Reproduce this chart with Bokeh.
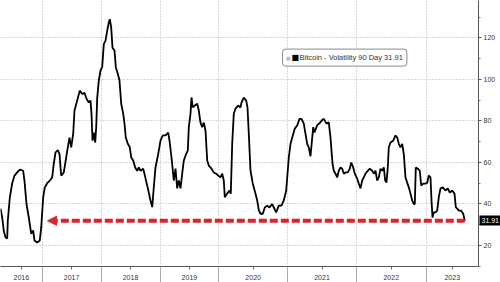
from bokeh.plotting import figure
from bokeh.models import Range1d, FixedTicker, Label, Arrow, NormalHead, LinearAxis
from bokeh.embed import file_html
from bokeh.resources import INLINE

# observation number (Bloomberg plots by observation) and 90-day volatility
obs = [0.0, 1.7, 3.3, 5.0, 6.7, 7.3, 9.3, 11.7, 14.0, 16.7, 19.3, 22.7, 24.0, 26.0, 28.3, 30.7,
       32.7, 34.0, 36.7, 39.3, 40.7, 42.7, 44.3, 46.7, 49.3, 51.7, 53.3, 55.0, 57.3, 59.0, 60.7,
       63.3, 65.7, 67.3, 69.0, 70.7, 72.7, 74.0, 76.7, 79.3, 81.7, 84.0, 86.0, 88.3, 90.0, 91.0,
       92.0, 93.3, 94.7, 95.7, 96.7, 98.3, 100.0, 101.7, 103.3, 105.0, 106.7, 108.3, 109.3, 110.7,
       112.0, 114.0, 115.3, 117.3, 119.0, 120.7, 122.7, 124.0, 125.3, 127.3, 129.3, 130.7, 132.7,
       134.7, 136.7, 138.3, 140.0, 142.7, 144.0, 146.0, 148.3, 150.0, 151.7, 153.3, 155.0, 157.7,
       160.0, 162.3, 165.0, 167.7, 169.0, 171.0, 173.3, 175.0, 176.7, 178.3, 180.0, 181.7, 183.3,
       185.7, 187.3, 188.3, 190.0, 191.0, 192.3, 194.3, 196.7, 198.3, 200.0, 201.7, 203.3, 205.0,
       206.7, 208.3, 211.0, 213.3, 215.7, 217.7, 220.0, 221.7, 223.3, 224.3, 226.7, 229.0, 230.3,
       231.7, 233.3, 235.0, 237.7, 240.0, 241.0, 243.3, 245.7, 247.0, 248.3, 250.0, 252.3, 255.0,
       256.7, 258.3, 260.0, 262.3, 264.3, 266.7, 269.0, 271.7, 273.3, 275.7, 278.3, 281.0, 283.3,
       285.7, 288.3, 290.0, 292.3, 294.3, 296.7, 299.0, 301.0, 303.3, 305.0, 306.7, 308.3, 310.0,
       312.7, 314.0, 316.7, 319.3, 321.7, 323.3, 326.0, 328.3, 330.0, 331.0, 332.0, 333.3, 335.0,
       336.7, 338.3, 340.0, 341.7, 343.3, 345.0, 347.3, 349.3, 350.7, 352.7, 354.3, 356.7, 358.3,
       360.0, 361.7, 363.3, 365.0, 367.3, 369.3, 371.7, 373.3, 375.0, 376.7, 378.3, 380.0, 381.7,
       383.3, 384.7, 386.0, 387.3, 388.3, 390.0, 392.7, 395.0, 396.7, 398.3, 400.0, 401.7, 403.3,
       405.0, 406.7, 408.3, 410.0, 411.7, 413.3, 414.3, 415.3, 417.3, 419.3, 420.7, 422.7, 425.0,
       426.7, 428.3, 430.0, 431.0, 432.0, 433.3, 435.0, 436.7, 438.3, 440.0, 442.3, 445.0, 447.3,
       449.3, 451.7, 454.0, 455.3, 456.7, 458.3, 460.7, 462.7, 464.3]
vol = [37.8, 33.5, 27.0, 24.0, 23.4, 32.0, 43.0, 50.0, 53.7, 55.2, 56.6, 56.0, 51.0, 40.0, 33.5, 25.7,
       27.2, 22.4, 21.5, 22.4, 28.7, 43.3, 48.0, 50.0, 51.3, 52.8, 59.5, 64.8, 66.0, 64.0, 53.6,
       55.2, 62.4, 67.3, 72.0, 67.3, 73.9, 85.0, 89.8, 94.6, 93.0, 93.6, 90.7, 88.9, 89.8, 83.5,
       70.5, 74.4, 69.6, 76.9, 91.0, 99.5, 104.3, 105.9, 117.0, 118.7, 123.5, 127.4, 129.0, 125.0,
       115.3, 113.9, 105.9, 102.7, 99.5, 88.3, 83.5, 78.7, 72.0, 69.0, 67.3, 62.4, 61.0,
       57.6, 56.0, 57.6, 56.0, 57.0, 54.5, 50.3, 45.5, 41.7, 38.5, 48.0, 57.6, 64.0,
       70.5, 73.0, 73.0, 74.4, 70.5, 62.4, 51.3, 57.0, 47.5, 51.3, 47.5, 54.6, 60.9,
       64.2, 65.7, 76.9, 83.5, 91.3, 86.5, 87.4, 88.3, 85.0, 79.2, 77.0, 79.2, 75.4,
       61.0, 58.5, 57.0, 55.2, 54.6, 53.7, 52.8, 54.6, 51.3, 43.3, 45.0, 46.5, 45.0,
       69.0, 83.5, 85.9, 87.4, 86.5, 88.8, 91.2, 89.8, 86.5, 73.8, 56.0, 49.8, 45.0,
       41.7, 37.0, 35.3, 35.3, 38.3, 39.2, 38.3, 40.0, 38.3, 36.0, 39.2, 39.2, 41.7,
       46.5, 62.4, 69.0, 73.0, 76.3, 77.8, 81.0, 81.0, 78.7, 73.8, 69.0, 67.3, 63.0,
       77.0, 74.4, 78.0, 79.0, 80.5, 81.0, 78.7, 79.3, 72.0, 65.7, 59.5, 56.0, 54.6,
       52.8, 56.0, 57.6, 57.0, 54.6, 55.2, 55.2, 57.0, 60.0, 57.6, 54.6, 52.2, 49.8,
       47.5, 51.3, 52.8, 54.6, 56.0, 57.0, 56.0, 54.6, 56.0, 51.3, 52.8, 57.0, 56.0,
       57.6, 51.3, 50.3, 57.6, 67.3, 69.6, 70.5, 73.0, 72.0, 69.0, 67.3, 69.0, 64.0,
       52.8, 50.3, 48.0, 45.0, 41.7, 40.0, 40.0, 57.6, 57.0, 56.0, 48.9, 49.8, 49.8,
       50.3, 53.7, 52.8, 41.7, 33.5, 36.0, 36.0, 36.8, 43.3, 47.5, 48.0, 46.5, 47.5,
       45.5, 46.5, 45.0, 38.5, 37.8, 36.8, 36.8, 35.3, 31.91]

years = [2016, 2017, 2018, 2019, 2020, 2021, 2022, 2023]
year_start_obs = [-17.1, 41.7, 100.5, 159.5, 218.3, 287.0, 356.0, 425.5, 490.5]  # 2016 .. 2024
last_value = 31.91
arrow_tip_obs = 47.0
y_major = [20, 40, 60, 80, 100, 120]
y_minor = [10, 30, 50, 70, 90, 110, 130]

X_MAX = 478.0
RED = "#d7262b"
FONT = "Liberation Sans"

p = figure(frame_width=478, frame_height=266, x_range=Range1d(0, X_MAX), y_range=Range1d(9.9, 138.0),
           output_backend="svg", toolbar_location=None, y_axis_location="right",
           min_border_left=0, min_border_top=0, min_border_right=0, min_border_bottom=0)
p.outline_line_color = None
p.background_fill_color = "white"
p.border_fill_color = "white"

# ---- right value axis
yax = p.yaxis[0]
yax.ticker = FixedTicker(ticks=y_major, minor_ticks=y_minor)
yax.major_tick_in = 0
yax.major_tick_out = 3
yax.minor_tick_in = 0
yax.minor_tick_out = 2
yax.axis_line_color = "#555555"
yax.major_tick_line_color = "#555555"
yax.minor_tick_line_color = "#777777"
yax.major_label_text_font = FONT
yax.major_label_text_font_size = "7px"
yax.major_label_text_color = "#333333"
yax.major_label_standoff = 2

# ---- last-value tag: a second right axis with one thick black tick and a white label
tag = LinearAxis(ticker=FixedTicker(ticks=[last_value], minor_ticks=[]))
tag.axis_line_color = None
tag.major_tick_in = 19
tag.major_tick_out = 2
tag.major_tick_line_width = 10
tag.major_tick_line_color = "black"
tag.minor_tick_line_color = None
tag.major_label_text_font = FONT
tag.major_label_text_font_size = "7px"
tag.major_label_text_color = "white"
tag.major_label_standoff = -19
tag.major_label_overrides = {last_value: f"{last_value:.2f}"}
p.add_layout(tag, "right")

# ---- bottom time axis: year names centred in each year, separators at year starts
bounds = [b for b in year_start_obs if 0 < b < X_MAX]
mids = []
for i in range(len(years)):
    a = max(year_start_obs[i], 0.0)
    b = min(year_start_obs[i + 1], X_MAX)
    mids.append(round((a + b) / 2.0, 2))
xax = p.xaxis[0]
xax.ticker = FixedTicker(ticks=mids, minor_ticks=bounds)
xax.major_label_overrides = {m: str(yr) for m, yr in zip(mids, years)}
xax.major_tick_in = 0
xax.major_tick_out = 3
xax.major_tick_line_color = "#666666"
xax.minor_tick_in = 0
xax.minor_tick_out = 16
xax.minor_tick_line_color = "#aaaaaa"
xax.axis_line_color = "#555555"
xax.major_label_text_font = FONT
xax.major_label_text_font_size = "7px"
xax.major_label_text_color = "#333333"
xax.major_label_standoff = -8

# ---- grids
p.xgrid.ticker = FixedTicker(ticks=bounds)
p.ygrid.ticker = FixedTicker(ticks=y_major)
for g in (p.xgrid, p.ygrid):
    g.grid_line_color = "#b0b0b0"
    g.grid_line_dash = "1 2"
    g.grid_line_width = 1

# ---- series
p.line(obs, vol, line_color="black", line_width=1.8)

# ---- red dashed arrow from the latest value back to the 2016 lows
p.add_layout(Arrow(end=NormalHead(size=9, fill_color=RED, line_color=RED, line_width=1),
                   x_start=obs[-1], y_start=last_value, x_end=arrow_tip_obs, y_end=last_value,
                   line_color=RED, line_width=4, line_dash="8 3"))

# ---- legend box
p.add_layout(Label(x=282, y=110.5, text=f"Bitcoin - Volatility 90 Day {last_value:.2f}",
                   text_font=FONT, text_font_size="7.5px", text_color="#333333", text_baseline="middle",
                   background_fill_color="white", border_line_color="#8a8a8a", border_radius=3,
                   padding=dict(left=17, right=4, top=4, bottom=4)))
p.add_layout(Label(x=285.5, y=110.5, text="\u25a0", text_font="DejaVu Sans", text_font_size="5px",
                   text_color="#bdbdbd", text_baseline="middle"))
p.add_layout(Label(x=291, y=110.5, text="\u25a0", text_font="DejaVu Sans", text_font_size="8px",
                   text_color="black", text_baseline="middle"))

open("out.html", "w").write(file_html(p, INLINE))
